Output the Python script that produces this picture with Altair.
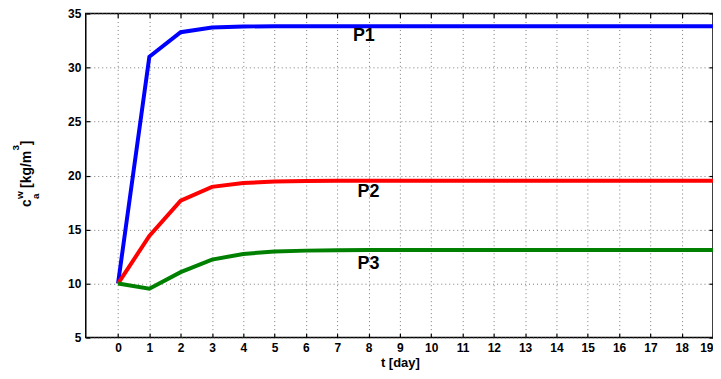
import altair as alt
import pandas as pd

days = list(range(20))
p1 = [10.0, 31.0, 33.27, 33.7, 33.8, 33.82, 33.82, 33.82, 33.82, 33.82,
      33.82, 33.82, 33.82, 33.82, 33.82, 33.82, 33.82, 33.82, 33.82, 33.82]
p2 = [10.0, 14.41, 17.68, 18.95, 19.3, 19.45, 19.5, 19.52, 19.52, 19.52,
      19.52, 19.52, 19.52, 19.52, 19.52, 19.52, 19.52, 19.52, 19.52, 19.52]
p3 = [10.0, 9.52, 11.06, 12.22, 12.74, 12.97, 13.05, 13.08, 13.1, 13.1,
      13.1, 13.1, 13.1, 13.1, 13.1, 13.1, 13.1, 13.1, 13.1, 13.1]
series = ["P1", "P2", "P3"]
colors = ["#0000FF", "#FF0000", "#008000"]
label_x = [7.85, 8.0, 8.0]
label_y = [32.9, 18.45, 11.85]
y_ticks = [5, 10, 15, 20, 25, 30, 35]
x_title = "t [day]"
# y title pieces: c^w_a [kg/m^3]
y_title_parts = ["c", "w", "a", "[kg/m", "3", "]"]

rows = []
for name, vals in zip(series, (p1, p2, p3)):
    for t, v in zip(days, vals):
        rows.append({"t": t, "c": v, "series": name})
df = pd.DataFrame(rows)
lab_df = pd.DataFrame({"lx": label_x, "ly": label_y, "name": series})
one = pd.DataFrame({"k": [0]})

W, H = 629, 325
x_scale = alt.Scale(domain=[-1.03, 19], nice=False, zero=False)
y_scale = alt.Scale(domain=[5, 35], nice=False, zero=False)

FONT = "Liberation Sans"

lines = alt.Chart(df).mark_line(strokeWidth=4, clip=True).encode(
    x=alt.X("t:Q", scale=x_scale,
            axis=alt.Axis(values=days, title=None, labelOverlap=False,
                          offset=-4, tickSize=4, labelPadding=5)),
    y=alt.Y("c:Q", scale=y_scale,
            axis=alt.Axis(values=y_ticks, title=None, labelOverlap=False,
                          offset=-4, tickSize=4, labelPadding=5)),
    color=alt.Color("series:N", scale=alt.Scale(domain=series, range=colors), legend=None),
)

frame = alt.Chart(df).mark_point(opacity=0).encode(
    x=alt.X("t:Q", scale=x_scale,
            axis=alt.Axis(orient="top", values=days, labels=False, title=None,
                          grid=False, offset=-4, tickSize=4)),
    y=alt.Y("c:Q", scale=y_scale,
            axis=alt.Axis(orient="right", values=y_ticks, labels=False, title=None,
                          grid=False, offset=-4, tickSize=4)),
)

labels = alt.Chart(lab_df).mark_text(
    font=FONT, fontWeight="bold", fontSize=18, color="black"
).encode(
    x=alt.X("lx:Q", scale=x_scale, axis=None),
    y=alt.Y("ly:Q", scale=y_scale, axis=None),
    text="name:N",
)

def txt(s, x, y, size, angle=0, align="center"):
    return alt.Chart(one).mark_text(
        text=s, font=FONT, fontWeight="bold", fontSize=size, color="black",
        angle=angle, align=align, baseline="alphabetic",
    ).encode(x=alt.value(x), y=alt.value(y))

xt = txt(x_title, W / 2 + 1, 355, 13)
yt = [
    txt(y_title_parts[0], -55, 194, 14, 270, "left"),
    txt(y_title_parts[1], -63, 186, 10, 270, "left"),
    txt(y_title_parts[2], -47, 186, 10, 270, "left"),
    txt(y_title_parts[3], -55, 175, 14, 270, "left"),
    txt(y_title_parts[4], -67, 137.5, 10, 270, "left"),
    txt(y_title_parts[5], -55, 132, 14, 270, "left"),
]

chart = alt.layer(lines, frame, labels, xt, *yt).resolve_axis(
    x="independent", y="independent"
).properties(
    width=W, height=H,
    padding={"left": 78, "top": 5, "right": 0, "bottom": 33},
    autosize=alt.AutoSizeParams(type="none"),
).configure_view(
    stroke="black", strokeWidth=1.5
).configure_axis(
    domain=False,
    grid=True, gridColor="#777777", gridDash=[1, 3], gridWidth=1,
    tickColor="black", tickWidth=1.2,
    labelFont=FONT, labelFontWeight="bold", labelFontSize=12, labelColor="black",
)

chart.save("out.html", embed_options={"renderer": "svg", "actions": False})
